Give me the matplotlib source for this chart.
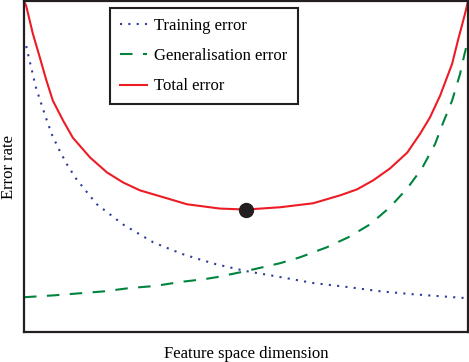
import matplotlib
matplotlib.use("Agg")
import matplotlib.pyplot as plt

plt.rcParams.update({
    "font.family": "Liberation Serif",
})

RED   = "#ed1c24"
BLUE  = "#2e3d98"
GREEN = "#00843d"
INK   = "#231f20"

# values (x and y both on a 0..1 scale)
train_x = [0.005, 0.009, 0.018, 0.027, 0.038, 0.050, 0.063, 0.079, 0.097, 0.117,
           0.142, 0.164, 0.194, 0.223, 0.257, 0.291, 0.324, 0.358, 0.394, 0.432,
           0.500, 0.577, 0.651, 0.728, 0.802, 0.876, 1.000]
train_y = [0.864, 0.840, 0.789, 0.738, 0.693, 0.645, 0.596, 0.551, 0.506, 0.464,
           0.422, 0.386, 0.355, 0.325, 0.298, 0.271, 0.253, 0.235, 0.220, 0.205,
           0.184, 0.166, 0.148, 0.136, 0.123, 0.114, 0.102]

gen_x = [0, 0.070, 0.126, 0.182, 0.239, 0.295, 0.351, 0.408, 0.435, 0.500,
         0.577, 0.622, 0.682, 0.730, 0.779, 0.824, 0.863, 0.896, 0.926, 0.944,
         0.964, 0.982, 0.991, 0.998]
gen_y = [0.105, 0.111, 0.117, 0.123, 0.133, 0.139, 0.151, 0.160, 0.166, 0.184,
         0.208, 0.226, 0.256, 0.286, 0.325, 0.377, 0.434, 0.494, 0.569, 0.633,
         0.699, 0.780, 0.834, 0.873]

total_x = [0.000, 0.005, 0.020, 0.036, 0.050, 0.065, 0.088, 0.110, 0.149, 0.187,
           0.223, 0.261, 0.322, 0.367, 0.441, 0.500, 0.577, 0.651, 0.712, 0.750,
           0.786, 0.824, 0.863, 0.892, 0.914, 0.937, 0.964, 0.977, 0.993, 1.000]
total_y = [1.000, 0.985, 0.901, 0.828, 0.762, 0.699, 0.639, 0.587, 0.527, 0.482,
           0.452, 0.428, 0.404, 0.386, 0.373, 0.370, 0.377, 0.389, 0.413, 0.431,
           0.458, 0.494, 0.542, 0.599, 0.648, 0.714, 0.810, 0.880, 0.961, 1.000]

opt_x = 0.500
opt_y = 0.370

fig = plt.figure(figsize=(4.69, 3.62), dpi=100)
ax = fig.add_axes([0.0512, 0.0829, 0.9468, 0.9141])

ax.plot(train_x, train_y, color=BLUE, lw=1.5, linestyle=(0, (1, 3)),
        label="Training error")
ax.plot(gen_x, gen_y, color=GREEN, lw=1.5, linestyle=(0, (6, 5)),
        label="Generalisation error")
ax.plot(total_x, total_y, color=RED, lw=1.5, label="Total error")
ax.plot([opt_x], [opt_y], "o", color=INK, markersize=10, zorder=5)

ax.set_xlim(0, 1)
ax.set_ylim(0, 1)
ax.set_xticks([])
ax.set_yticks([])
for s in ax.spines.values():
    s.set_color(INK)
    s.set_linewidth(1.6)

ax.set_xlabel("Feature space dimension", fontsize=12, labelpad=10)
ax.set_ylabel("Error rate", fontsize=12, labelpad=5)

leg = ax.legend(loc="upper left", bbox_to_anchor=(0.194, 0.979), fontsize=12,
                fancybox=False, framealpha=1, edgecolor=INK, borderaxespad=0,
                handlelength=1.6, handletextpad=0.45, borderpad=0.6,
                labelspacing=0.85)
leg.get_frame().set_linewidth(1.5)

fig.savefig("out.png", dpi=100)
